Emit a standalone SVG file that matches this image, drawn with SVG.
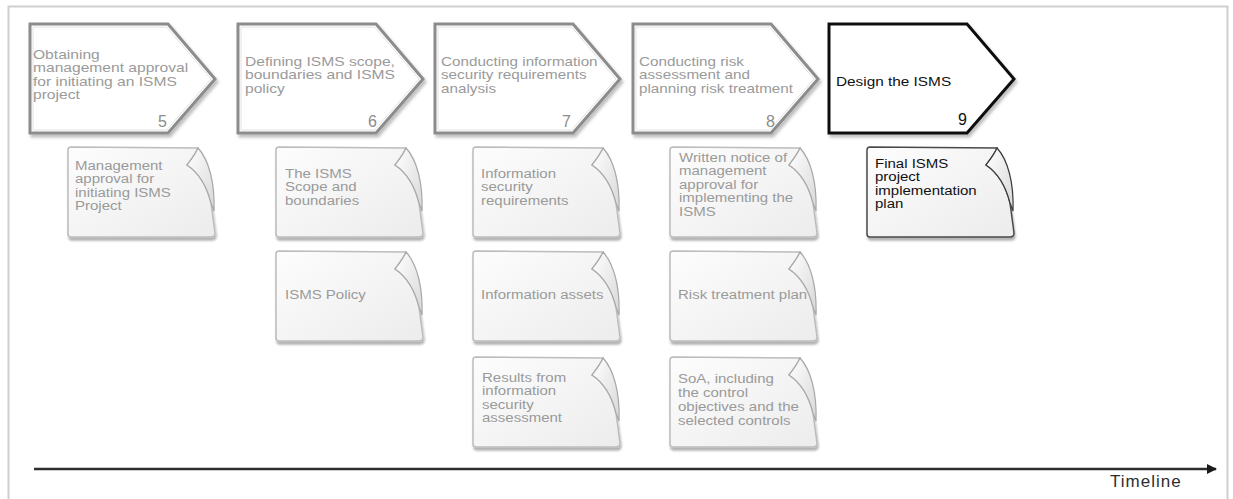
<svg xmlns="http://www.w3.org/2000/svg" width="1233" height="499" viewBox="0 0 1233 499">
  <style>
    .step { fill: #ffffff; stroke: #8c8c8c; stroke-width: 3; stroke-linejoin: miter; filter: url(#shadow); }
    .step.current { stroke: #111111; }
    .step-in { fill: none; stroke: #e2e2e2; stroke-width: 1; }
    .lbl { font-family: "Liberation Sans", Arial, sans-serif; font-size: 12px; fill: #9a9a9a; }
    .num { font-family: "Liberation Sans", Arial, sans-serif; font-size: 16px; fill: #8c8c8c; text-anchor: end; }
    .dark { fill: #111111; }
    .doc { fill: url(#docFill); stroke: #bcbcbc; stroke-width: 1.5; filter: url(#docShadow); }
    .doc.current { stroke: #4a4a4a; }
    .fold { fill: url(#foldFill); stroke: #a8a8a8; stroke-width: 1.2; }
    .fold.current { stroke: #3a3a3a; }
    .axis { stroke: #2e2e2e; stroke-width: 2.5; fill: none; }
  </style>
  <defs>
    <filter id="shadow" x="-10%" y="-10%" width="125%" height="130%">
      <feDropShadow dx="2" dy="3" stdDeviation="1.5" flood-color="#000" flood-opacity="0.25"/>
    </filter>
    <filter id="docShadow" x="-10%" y="-10%" width="125%" height="130%">
      <feDropShadow dx="1" dy="3" stdDeviation="1.2" flood-color="#000" flood-opacity="0.3"/>
    </filter>
    <linearGradient id="docFill" x1="0" y1="0" x2="1" y2="1">
      <stop offset="0" stop-color="#fdfdfd"/>
      <stop offset="1" stop-color="#ececec"/>
    </linearGradient>
    <linearGradient id="foldFill" x1="0" y1="0" x2="1" y2="1">
      <stop offset="0" stop-color="#ffffff"/>
      <stop offset="1" stop-color="#d8d8d8"/>
    </linearGradient>
    <!-- document sheet with a curled top-right corner, 148 x 90 -->
    <path id="sheet" d="M3,0 L130,1 C127,8 122,14 119,18 C128,24 138,36 143,56 L147,86 Q147,90 143,90 L3,90 Q0,90 0,87 L0,3 Q0,0 3,0 Z"/>
    <path id="curl" d="M130,1 C127,8 122,14 119,18 C128,24 138,36 143,56 L146,64 C147,36 141,13 130,1 Z"/>
    <!-- process step chevron, 185 x 109 -->
    <path id="chevron" d="M0,0 L138,0 L185,55 L138,109 L0,109 Z"/>
    <path id="chevronIn" d="M3,3 L136.6,3 L181,55 L136.6,106 L3,106 Z"/>
    <marker id="arrow" markerWidth="10" markerHeight="10" refX="9" refY="5" orient="auto" markerUnits="userSpaceOnUse">
      <path d="M0,0 L10,5 L0,10 Z" fill="#1a1a1a"/>
    </marker>
  </defs>

  <!-- outer frame -->
  <rect x="8.5" y="6.5" width="1219" height="500" fill="#ffffff" stroke="#cfcfcf" stroke-width="2"/>

  <!-- process steps -->
  <g id="step5">
    <use href="#chevron" x="30" y="24" class="step"/>
    <use href="#chevronIn" x="30" y="24" class="step-in"/>
    <text class="lbl" transform="translate(33,0) scale(1.3,1)"><tspan x="0" y="59">Obtaining</tspan><tspan x="0" y="72.5">management approval</tspan><tspan x="0" y="86">for initiating an ISMS</tspan><tspan x="0" y="99.5">project</tspan></text>
    <text class="num" x="167" y="127">5</text>
  </g>
  <g id="step6">
    <use href="#chevron" x="238" y="24" class="step"/>
    <use href="#chevronIn" x="238" y="24" class="step-in"/>
    <text class="lbl" transform="translate(245,0) scale(1.3,1)"><tspan x="0" y="66">Defining ISMS scope,</tspan><tspan x="0" y="79.5">boundaries and ISMS</tspan><tspan x="0" y="93">policy</tspan></text>
    <text class="num" x="377" y="127">6</text>
  </g>
  <g id="step7">
    <use href="#chevron" x="435" y="24" class="step"/>
    <use href="#chevronIn" x="435" y="24" class="step-in"/>
    <text class="lbl" transform="translate(441,0) scale(1.27,1)"><tspan x="0" y="66">Conducting information</tspan><tspan x="0" y="79.5">security requirements</tspan><tspan x="0" y="93">analysis</tspan></text>
    <text class="num" x="571" y="127">7</text>
  </g>
  <g id="step8">
    <use href="#chevron" x="633" y="24" class="step"/>
    <use href="#chevronIn" x="633" y="24" class="step-in"/>
    <text class="lbl" transform="translate(639,0) scale(1.27,1)"><tspan x="0" y="66">Conducting risk</tspan><tspan x="0" y="79.5">assessment and</tspan><tspan x="0" y="93">planning risk treatment</tspan></text>
    <text class="num" x="775" y="127">8</text>
  </g>
  <g id="step9">
    <use href="#chevron" x="829" y="24" class="step current"/>
    <text class="lbl dark" transform="translate(836,0) scale(1.28,1)" x="0" y="86">Design the ISMS</text>
    <text class="num dark" x="967" y="125">9</text>
  </g>

  <!-- deliverables -->
  <g id="doc-mgmt-approval">
    <use href="#sheet" x="68" y="147" class="doc"/>
    <use href="#curl" x="68" y="147" class="fold"/>
    <text class="lbl" transform="translate(75,0) scale(1.25,1)"><tspan x="0" y="170">Management</tspan><tspan x="0" y="183.5">approval for</tspan><tspan x="0" y="197">initiating ISMS</tspan><tspan x="0" y="210.5">Project</tspan></text>
  </g>
  <g id="doc-scope">
    <use href="#sheet" x="276" y="147" class="doc"/>
    <use href="#curl" x="276" y="147" class="fold"/>
    <text class="lbl" transform="translate(285,0) scale(1.25,1)"><tspan x="0" y="178">The ISMS</tspan><tspan x="0" y="191.5">Scope and</tspan><tspan x="0" y="205">boundaries</tspan></text>
  </g>
  <g id="doc-policy">
    <use href="#sheet" x="276" y="251" class="doc"/>
    <use href="#curl" x="276" y="251" class="fold"/>
    <text class="lbl" transform="translate(285,0) scale(1.25,1)" x="0" y="299">ISMS Policy</text>
  </g>
  <g id="doc-sec-req">
    <use href="#sheet" x="473" y="147" class="doc"/>
    <use href="#curl" x="473" y="147" class="fold"/>
    <text class="lbl" transform="translate(481,0) scale(1.25,1)"><tspan x="0" y="178">Information</tspan><tspan x="0" y="191.5">security</tspan><tspan x="0" y="205">requirements</tspan></text>
  </g>
  <g id="doc-assets">
    <use href="#sheet" x="473" y="251" class="doc"/>
    <use href="#curl" x="473" y="251" class="fold"/>
    <text class="lbl" transform="translate(481,0) scale(1.25,1)" x="0" y="299">Information assets</text>
  </g>
  <g id="doc-assessment">
    <use href="#sheet" x="473" y="357" class="doc"/>
    <use href="#curl" x="473" y="357" class="fold"/>
    <text class="lbl" transform="translate(482,0) scale(1.25,1)"><tspan x="0" y="382">Results from</tspan><tspan x="0" y="395.5">information</tspan><tspan x="0" y="409">security</tspan><tspan x="0" y="422.5">assessment</tspan></text>
  </g>
  <g id="doc-written-notice">
    <use href="#sheet" x="670" y="147" class="doc"/>
    <use href="#curl" x="670" y="147" class="fold"/>
    <text class="lbl" transform="translate(679,0) scale(1.25,1)"><tspan x="0" y="162">Written notice of</tspan><tspan x="0" y="175.5">management</tspan><tspan x="0" y="189">approval for</tspan><tspan x="0" y="202.5">implementing the</tspan><tspan x="0" y="216">ISMS</tspan></text>
  </g>
  <g id="doc-risk-plan">
    <use href="#sheet" x="670" y="251" class="doc"/>
    <use href="#curl" x="670" y="251" class="fold"/>
    <text class="lbl" transform="translate(678,0) scale(1.25,1)" x="0" y="299">Risk treatment plan</text>
  </g>
  <g id="doc-soa">
    <use href="#sheet" x="670" y="357" class="doc"/>
    <use href="#curl" x="670" y="357" class="fold"/>
    <text class="lbl" transform="translate(678,0) scale(1.25,1)"><tspan x="0" y="383">SoA, including</tspan><tspan x="0" y="397">the control</tspan><tspan x="0" y="411">objectives and the</tspan><tspan x="0" y="425">selected controls</tspan></text>
  </g>
  <g id="doc-final-plan">
    <use href="#sheet" x="867" y="147" class="doc current"/>
    <use href="#curl" x="867" y="147" class="fold current"/>
    <text class="lbl dark" transform="translate(875,0) scale(1.25,1)"><tspan x="0" y="168">Final ISMS</tspan><tspan x="0" y="181.5">project</tspan><tspan x="0" y="195">implementation</tspan><tspan x="0" y="208.5">plan</tspan></text>
  </g>

  <!-- timeline axis -->
  <g id="connectors">
    <line class="axis" x1="34" y1="469" x2="1216" y2="469" marker-end="url(#arrow)"/>
  </g>
  <text x="1110" y="487" font-family="'Liberation Sans', Arial, sans-serif" font-size="17" letter-spacing="1" fill="#2e2e2e">Timeline</text>
</svg>
